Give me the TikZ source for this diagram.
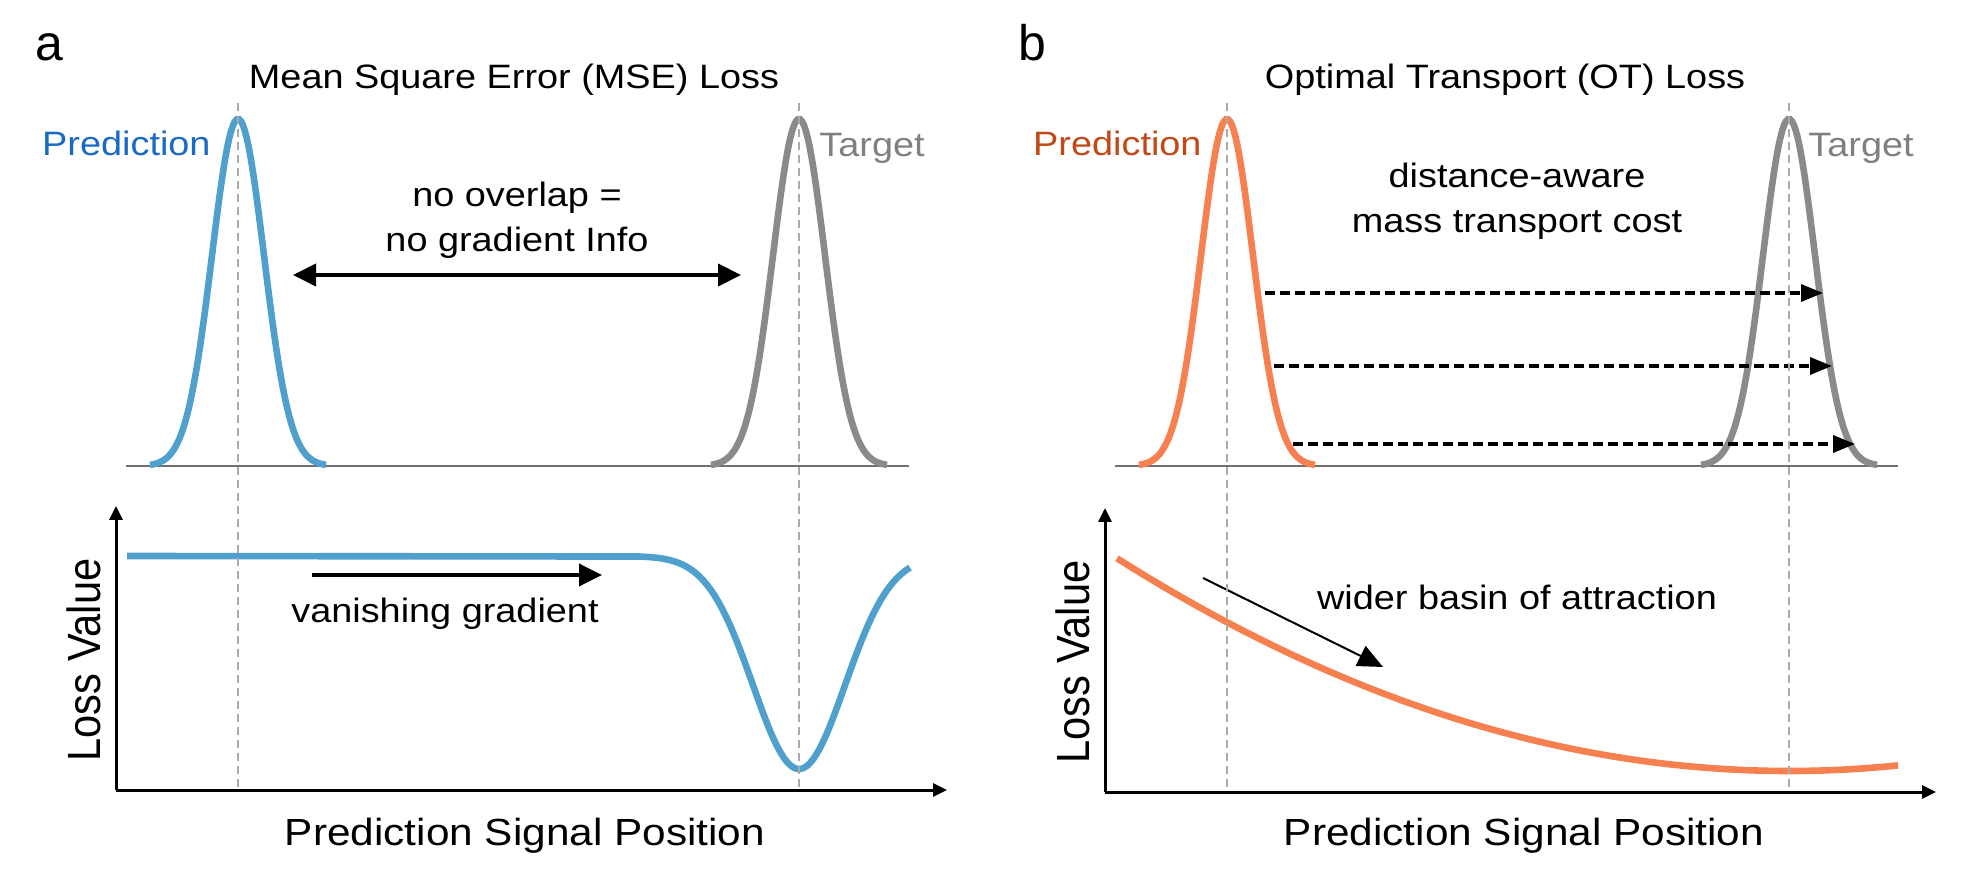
\documentclass[tikz,border=0pt]{standalone}
\usepackage{fontspec}
\setmainfont{Liberation Sans}
\usetikzlibrary{arrows.meta}

\definecolor{mseblue}{RGB}{80,160,206}
\definecolor{predblue}{RGB}{26,106,196}
\definecolor{otorange}{RGB}{246,128,80}
\definecolor{predorange}{RGB}{196,72,22}
\definecolor{targray}{RGB}{138,138,138}
\definecolor{targtext}{RGB}{128,128,128}
\definecolor{guidegray}{RGB}{170,170,170}
\definecolor{basegray}{RGB}{112,112,112}

\tikzset{
  dist/.style={line width=3.3pt},
  guide/.style={draw=guidegray,line width=1pt,dash pattern=on 4pt off 2.5pt},
  baseln/.style={draw=basegray,line width=1.2pt},
  axis/.style={line width=1.5pt,-{Triangle[length=7pt,width=6.5pt]}},
  txt/.style={inner sep=0pt,xscale=1.12,font=\fontsize{16.9}{20}\selectfont},
  ttl/.style={inner sep=0pt,xscale=1.12,font=\fontsize{16.9}{20}\selectfont},
  axlbl/.style={inner sep=0pt,xscale=1.12,font=\fontsize{18.9}{22}\selectfont},
  vlbl/.style={inner sep=0pt,xscale=1.12,rotate=90,font=\fontsize{20.8}{24}\selectfont},
  panel/.style={inner sep=0pt,font=\fontsize{25}{30}\selectfont},
  transp/.style={line width=1.6pt,dash pattern=on 5pt off 2.5pt,-{Triangle[length=11pt,width=8.5pt]}}
}

\begin{document}
\begin{tikzpicture}[x=0.5pt,y=-0.5pt,>={Triangle[length=11.5pt,width=11pt]}]
  \useasboundingbox (0,0) rectangle (1974,870);

  % Panel a: MSE loss
  \node[panel,anchor=base west] (pa) at (35,61) {a};
  \node[ttl,anchor=base] (ta) at (514,89) {Mean Square Error (MSE) Loss};

  \draw[baseln] (126,466) -- (909,466);
  \draw[dist,mseblue] plot[domain=-88:88,samples=90] ({238+\x},{466-347*exp(-0.5*(\x/26)*(\x/26))});
  \draw[dist,targray] plot[domain=-88:88,samples=90] ({799+\x},{466-347*exp(-0.5*(\x/26)*(\x/26))});
  \node[txt,anchor=base east,text=predblue] (preda) at (211,156) {Prediction};
  \node[txt,anchor=base west,text=targtext] (targa) at (819,157) {Target};

  \node[txt,anchor=base] (ovl) at (517,207) {no overlap =};
  \node[txt,anchor=base] (ovl2) at (517,252) {no gradient Info};
  \coordinate (gapl) at (293,275);
  \coordinate (gapr) at (741,275);
  \draw[<->,line width=2pt] (gapl) -- (gapr);

  % loss curve a
  \draw[axis] (116,790) -- (116,506);
  \draw[axis] (116,790) -- (947,790);
  \draw[dist,mseblue] (127,556) -- plot[domain=640:910,samples=90] (\x,{556+213*exp(-0.5*((\x-799)/46)*((\x-799)/46))});
  \coordinate (vga) at (312,575);
  \coordinate (vgb) at (602,575);
  \draw[->,line width=1.8pt] (vga) -- (vgb);
  \node[txt,anchor=base] (vg) at (445,623) {vanishing gradient};
  \node[vlbl,anchor=base] (lva) at (100,660) {Loss Value};
  \node[axlbl,anchor=base] (xa) at (525,845) {Prediction Signal Position};

  \draw[guide] (238,103) -- (238,790);
  \draw[guide] (799,103) -- (799,790);

  % Panel b: OT loss
  \node[panel,anchor=base west] (pb) at (1018,61) {b};
  \node[ttl,anchor=base] (tb) at (1505,89) {Optimal Transport (OT) Loss};

  \draw[baseln] (1115,466) -- (1898,466);
  \draw[dist,otorange] plot[domain=-88:88,samples=90] ({1227+\x},{466-347*exp(-0.5*(\x/26)*(\x/26))});
  \draw[dist,targray] plot[domain=-88:88,samples=90] ({1789+\x},{466-347*exp(-0.5*(\x/26)*(\x/26))});
  \node[txt,anchor=base east,text=predorange] (predb) at (1202,156) {Prediction};
  \node[txt,anchor=base west,text=targtext] (targb) at (1808,157) {Target};

  \node[txt,anchor=base] (dst) at (1517,188) {distance-aware};
  \node[txt,anchor=base] (dst2) at (1517,233) {mass transport cost};

  \coordinate (m1s) at (1265,293);
  \coordinate (m1e) at (1823,293);
  \coordinate (m2s) at (1274,366);
  \coordinate (m2e) at (1832,366);
  \coordinate (m3s) at (1293,444);
  \coordinate (m3e) at (1855,444);
  \draw[transp] (m1s) -- (m1e);
  \draw[transp] (m2s) -- (m2e);
  \draw[transp] (m3s) -- (m3e);

  % loss curve b
  \draw[axis] (1105,792) -- (1105,508);
  \draw[axis] (1105,792) -- (1936,792);
  \draw[dist,otorange] plot[domain=1117:1898,samples=100] (\x,{771-4.71*((\x-1789)/100)*((\x-1789)/100)});
  \coordinate (wba) at (1203,578);
  \coordinate (wbb) at (1383,667);
  \draw[line width=1pt,-{Triangle[length=12.5pt,width=11pt]}] (wba) -- (wbb);
  \node[txt,anchor=base] (wb) at (1517,610) {wider basin of attraction};
  \node[vlbl,anchor=base] (lvb) at (1089,662) {Loss Value};
  \node[axlbl,anchor=base] (xb) at (1524,845) {Prediction Signal Position};

  \draw[guide] (1227,103) -- (1227,792);
  \draw[guide] (1789,103) -- (1789,792);

\end{tikzpicture}
\end{document}
